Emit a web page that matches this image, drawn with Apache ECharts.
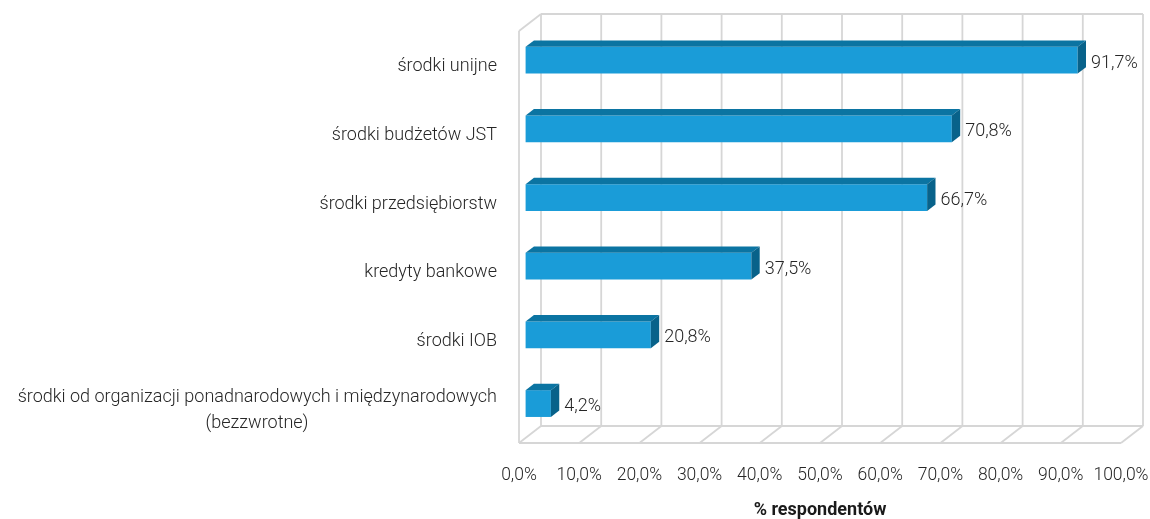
<!DOCTYPE html>
<html>
<head>
<meta charset="utf-8">
<script src="https://cdn.jsdelivr.net/npm/echarts@6/dist/echarts.min.js"></script>
<style>
  html, body { margin: 0; padding: 0; background: #fff; }
  #chart { width: 1150px; height: 519px; }
</style>
</head>
<body>
<div id="chart"></div>
<script>
// Sources of funding, top to bottom
const categories = [
  'środki unijne',
  'środki budżetów JST',
  'środki przedsiębiorstw',
  'kredyty bankowe',
  'środki IOB',
  'środki od organizacji ponadnarodowych i międzynarodowych\n(bezzwrotne)'
];
const values = [91.7, 70.8, 66.7, 37.5, 20.8, 4.2];
const xTicks = [0, 10, 20, 30, 40, 50, 60, 70, 80, 90, 100];
const axisTitle = '% respondentów';

const FONT = 'Roboto, "Noto Sans", sans-serif';
const TEXT_COLOR = '#262626';
const GRID_COLOR = '#d6d6d6';
const FRONT = '#1a9cd8';
const TOP = '#0b74a2';
const SIDE = '#08628a';
const FS = 18;
// oblique depth vector of the 3D box (front plane -> back wall)
const DEPTH = [22, -17];

function pct(v) { return v.toFixed(1).replace('.', ',') + '%'; }

// width of the first line of the two-line label, so the second line can be centred under it
const measureCtx = document.createElement('canvas').getContext('2d');
measureCtx.font = '300 ' + FS + 'px ' + FONT;
const longWidth = Math.ceil(measureCtx.measureText(categories[5].split('\n')[0]).width);

function catLabel(value) {
  const parts = value.split('\n');
  if (parts.length === 1) return '{a|' + value + '}';
  return '{a|' + parts[0] + '}\n{b|' + parts[1] + '}';
}

const chart = echarts.init(document.getElementById('chart'));

// back wall, floor and left wall of the 3D plot box
function wallRender(params, api) {
  const cs = params.coordSys;
  const fy0 = cs.y, fy1 = cs.y + cs.height;
  const by0 = fy0 + DEPTH[1], by1 = fy1 + DEPTH[1];
  const children = [];
  const ls = { stroke: GRID_COLOR, lineWidth: 1.8, fill: null };
  const line = (x1, y1, x2, y2) => children.push({ type: 'line', shape: { x1, y1, x2, y2 }, style: ls });
  const fx = xTicks.map(t => api.coord([t, 0])[0]);
  const fx0 = fx[0], fxN = fx[fx.length - 1];
  line(fx0 + DEPTH[0], by0, fxN + DEPTH[0], by0);
  fx.forEach(x => line(x + DEPTH[0], by0, x + DEPTH[0], by1));
  line(fx0 + DEPTH[0], by1, fxN + DEPTH[0], by1);
  line(fx0, fy1, fxN, fy1);
  fx.forEach(x => line(x, fy1, x + DEPTH[0], by1));
  line(fx0, fy0, fx0, fy1);
  line(fx0, fy0, fx0 + DEPTH[0], by0);
  return { type: 'group', children };
}

// 3D bar: front face, top face, end face and value label
function barRender(params, api) {
  const idx = api.value(0);
  const v = api.value(1);
  const band = api.size([0, 1])[1];
  const c0 = api.coord([0, idx]);
  const c1 = api.coord([v, idx]);
  const d0 = 0.3, d1 = 0.68;
  const ox = DEPTH[0] * d0, oy = DEPTH[1] * d0;
  const bx = DEPTH[0] * (d1 - d0), by = DEPTH[1] * (d1 - d0);
  const h = band * 0.39;
  const xL = c0[0] + ox, xR = c1[0] + ox;
  const yT = c0[1] + oy - h / 2, yB = yT + h;
  return {
    type: 'group',
    children: [
      { type: 'rect', shape: { x: xL, y: yT, width: xR - xL, height: h }, style: { fill: FRONT } },
      { type: 'polygon', shape: { points: [[xL, yT], [xR, yT], [xR + bx, yT + by], [xL + bx, yT + by]] }, style: { fill: TOP } },
      { type: 'polygon', shape: { points: [[xR, yT], [xR + bx, yT + by], [xR + bx, yB + by], [xR, yB]] }, style: { fill: SIDE } },
      {
        type: 'text',
        x: xR + bx + 5,
        y: (yT + yB) / 2 + 3,
        style: { text: pct(v), fill: TEXT_COLOR, font: '300 ' + FS + 'px ' + FONT, align: 'left', verticalAlign: 'middle' }
      }
    ]
  };
}

chart.setOption({
  animation: false,
  backgroundColor: '#ffffff',
  grid: { left: 519, right: 29, top: 31, bottom: 76, containLabel: false, outerBoundsMode: 'none' },
  xAxis: {
    type: 'value', min: 0, max: 100, interval: 10,
    axisLine: { show: false }, axisTick: { show: false }, splitLine: { show: false },
    axisLabel: { formatter: v => pct(v), color: TEXT_COLOR, fontFamily: FONT, fontWeight: 300, fontSize: 17.5, margin: 24 },
    name: axisTitle, nameLocation: 'middle', nameGap: 58,
    nameTextStyle: { color: '#1a1a1a', fontFamily: FONT, fontWeight: 'bold', fontSize: 18 }
  },
  yAxis: {
    type: 'category', inverse: true, data: categories,
    axisLine: { show: false }, axisTick: { show: false }, splitLine: { show: false },
    axisLabel: {
      margin: 22, formatter: catLabel, padding: [3, 0, 0, 0],
      rich: {
        a: { color: TEXT_COLOR, fontFamily: FONT, fontWeight: 300, fontSize: FS, lineHeight: 26 },
        b: { color: TEXT_COLOR, fontFamily: FONT, fontWeight: 300, fontSize: FS, lineHeight: 26, width: longWidth, align: 'center' }
      }
    }
  },
  series: [
    { type: 'custom', z: 1, clip: false, silent: true, renderItem: wallRender, data: [[0, 0]], encode: { x: 0, y: 1 } },
    { type: 'custom', z: 2, clip: false, renderItem: barRender, data: values.map((v, i) => [i, v]), encode: { x: 1, y: 0 } }
  ]
});
</script>
</body>
</html>
